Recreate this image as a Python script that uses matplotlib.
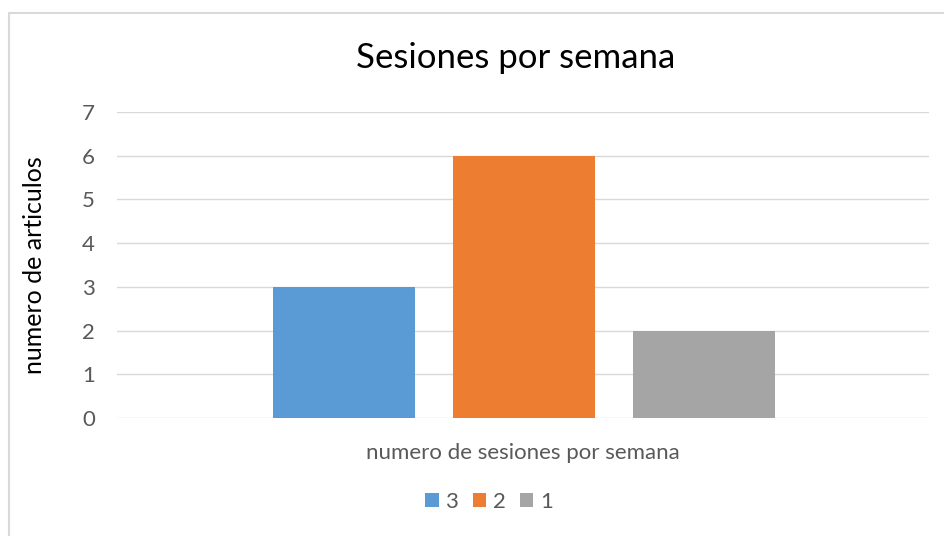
import matplotlib
matplotlib.use("Agg")
import matplotlib.pyplot as plt
from matplotlib.patches import Rectangle

# Data
series_labels = ["3", "2", "1"]
values = [3, 6, 2]
colors = ["#5B9BD5", "#ED7D31", "#A5A5A5"]
yticks = [0, 1, 2, 3, 4, 5, 6, 7]

plt.rcParams["font.family"] = ["Lato", "DejaVu Sans"]

fig = plt.figure(figsize=(9.44, 5.36), dpi=100)
ax = fig.add_axes([117 / 944, 1 - 418 / 536, (929 - 117) / 944, (418 - 112) / 536])

positions = [i - 1 for i in range(len(values))]
bars = ax.bar(positions, values, width=0.79, color=colors, zorder=3)

ax.set_xlim(-2.26, 2.25)
ax.set_ylim(0, 7)
ax.set_yticks(yticks)
ax.set_xticks([])
ax.grid(axis="y", color="#D9D9D9", linewidth=1.0, zorder=0)
ax.tick_params(axis="y", length=0, pad=16, labelsize=16, labelcolor="#595959")
for spine in ax.spines.values():
    spine.set_visible(False)

fig.text(516 / 944, 1 - 58 / 536, "Sesiones por semana", fontsize=25,
         ha="center", va="center", color="black")
fig.text(523 / 944, 1 - 453 / 536, "numero de sesiones por semana", fontsize=16,
         ha="center", va="center", color="#595959")
fig.text(35 / 944, 1 - 265 / 536, "numero de articulos", fontsize=18,
         rotation=90, ha="center", va="center", color="black")

fig.legend(bars, series_labels, loc="center", bbox_to_anchor=(489 / 944, 1 - 502 / 536),
           ncol=3, frameon=False, fontsize=16, handlelength=0.6, handleheight=0.6,
           handletextpad=0.3, columnspacing=0.65, labelcolor="#595959")

# light chart border like the spreadsheet frame
fig.patches.append(Rectangle((9 / 944, -0.1), 1.2, 1.1 - 13 / 536,
                             transform=fig.transFigure, fill=False,
                             edgecolor="#D9D9D9", linewidth=1.5))

fig.savefig("out.png", dpi=100)
